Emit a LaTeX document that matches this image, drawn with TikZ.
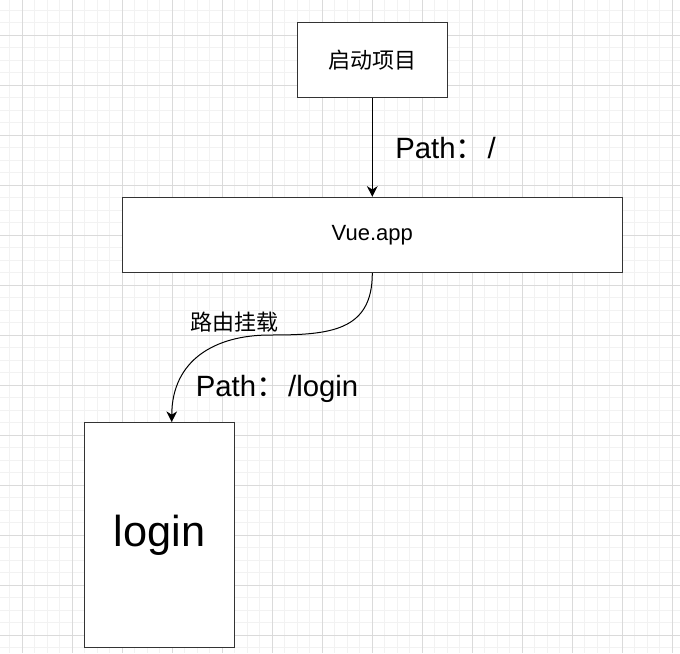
\documentclass[tikz,border=0pt]{standalone}
\usepackage{fontspec}
\setmainfont{Liberation Sans}
\newfontfamily\cjk{Noto Sans CJK SC}
\usetikzlibrary{arrows.meta}
\definecolor{gridminor}{HTML}{F2F2F2}
\definecolor{gridmajor}{HTML}{DADADA}
\tikzstyle{box}=[draw=black!80, line width=1pt, fill=white, inner sep=0pt]
\tikzstyle{flow}=[-{Stealth[length=8pt, width=8pt, inset=2.5pt]}, line width=0.75pt]
\tikzstyle{cjktext}=[font=\cjk\fontsize{16.5}{20}\selectfont]
\tikzstyle{pathtext}=[inner sep=0pt, anchor=base west, font=\fontsize{22}{26}\selectfont]
\newcommand{\fwcolon}{{\cjk ：}\kern2pt}

\begin{document}
\begin{tikzpicture}[x=0.75pt, y=-0.75pt]
% Canvas
    \useasboundingbox[fill=white] (0, 0) rectangle (680, 653);
% Grid
    \foreach \gx in {0,...,53}
        \draw[gridminor, line width=0.75pt] (9.8+12.5*\gx, 0) -- (9.8+12.5*\gx, 653);
    \foreach \gy in {0,...,51}
        \draw[gridminor, line width=0.75pt] (0, 10+12.5*\gy) -- (680, 10+12.5*\gy);
    \foreach \gx in {0,...,13}
        \draw[gridmajor, line width=0.75pt] (22.3+50*\gx, 0) -- (22.3+50*\gx, 653);
    \foreach \gy in {0,...,12}
        \draw[gridmajor, line width=0.75pt] (0, 35+50*\gy) -- (680, 35+50*\gy);
% Boxes
    \node[box, cjktext, minimum width=112.5pt, minimum height=56.25pt] (start) at (372.3, 59.8) {启动项目};
    \node[box, minimum width=375pt, minimum height=56.25pt, font=\fontsize{16.5}{20}\selectfont] (app) at (372.3, 235) {Vue.app};
    \node[box, minimum width=112.5pt, minimum height=168.75pt, font=\fontsize{32.5}{38}\selectfont] (login) at (159.7, 535.2) {\raisebox{-2.5pt}{login}};
% Routes
    \draw[flow] (start) -- (app);
    \coordinate (bend) at (270, 335);
    \draw[flow] (app.south) .. controls +(0, 58) and (330, 335) .. (bend)
        .. controls (215, 335) and (172, 360) .. ([xshift=9pt]login.north);
% Labels
    \node[pathtext] (rootpath) at (395, 158.3) {Path\fwcolon/};
    \node[cjktext] (mount) at (234, 322) {路由挂载};
    \node[pathtext] (loginpath) at (195.5, 396.7) {Path\fwcolon/login};
\end{tikzpicture}
\end{document}
